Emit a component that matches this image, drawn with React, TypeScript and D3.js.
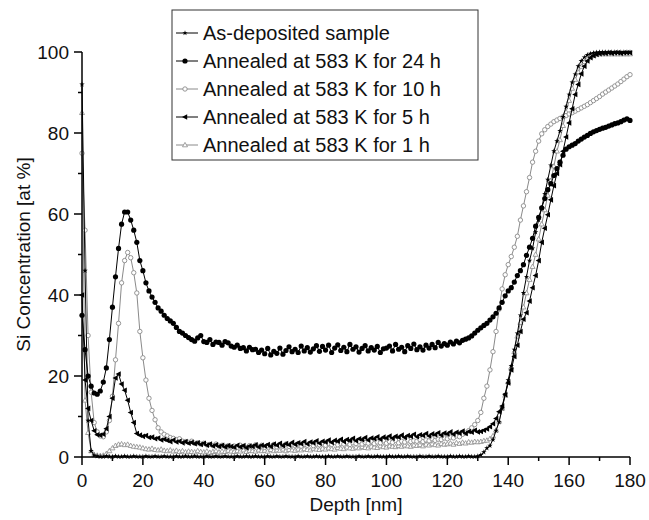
import * as d3 from 'd3'

// depth grid [nm], 1 nm steps
const depth = d3.range(0, 181)

const xTicks = [0, 20, 40, 60, 80, 100, 120, 140, 160, 180]
const xMinor = [10, 30, 50, 70, 90, 110, 130, 150, 170]
const yTicks = [0, 20, 40, 60, 80, 100]
const yMinor = [10, 30, 50, 70, 90]

// Si concentration [at %]
const asDeposited = [
  92, 46, 9, 1.5, 0.4, 0.2, 0.1, 0.1, 0.2, 0.1,
  0.1, 0.2, 0.1, 0.1, 0.2, 0.1, 0.1, 0.2, 0.1, 0.1,
  0.1, 0.2, 0.1, 0.1, 0.2, 0.1, 0.1, 0.2, 0.1, 0.1,
  0.1, 0.2, 0.1, 0.1, 0.2, 0.1, 0.1, 0.2, 0.1, 0.1,
  0.1, 0.2, 0.1, 0.1, 0.2, 0.1, 0.1, 0.2, 0.1, 0.1,
  0.1, 0.2, 0.1, 0.1, 0.2, 0.1, 0.1, 0.2, 0.1, 0.1,
  0.1, 0.2, 0.1, 0.1, 0.2, 0.1, 0.1, 0.2, 0.1, 0.1,
  0.1, 0.2, 0.1, 0.1, 0.2, 0.1, 0.1, 0.2, 0.1, 0.1,
  0.1, 0.2, 0.1, 0.1, 0.2, 0.1, 0.1, 0.2, 0.1, 0.1,
  0.1, 0.2, 0.1, 0.1, 0.2, 0.1, 0.1, 0.2, 0.1, 0.1,
  0.1, 0.2, 0.1, 0.1, 0.2, 0.1, 0.1, 0.2, 0.1, 0.1,
  0.1, 0.2, 0.1, 0.1, 0.2, 0.1, 0.1, 0.2, 0.1, 0.1,
  0.1, 0.2, 0.1, 0.1, 0.2, 0.1, 0.1, 0.2, 0.1, 0.1,
  0.2, 0.5, 1.2, 2.2, 2.8, 4.3, 6.5, 8.6, 12, 15.5,
  19, 22.5, 26.5, 30.5, 35, 40.5, 44.5, 48.5, 51.5, 55.5,
  58.5, 61.5, 65, 68.5, 72, 75.5, 78, 80.5, 84, 86.5,
  89.5, 92.5, 94.5, 96.5, 97.8, 98.7, 99.3, 99.6, 99.8, 99.9,
  100, 100, 100, 100, 100, 100, 100, 100, 100, 100, 100,
]

const annealed24h = [
  35, 26.5, 20, 17.5, 15.8, 15.5, 16.3, 18.5, 22, 29,
  37, 44.5, 51.5, 57.5, 60.5, 60.5, 58.5, 56, 53, 48.5,
  46, 43, 41, 39.5, 38.2, 36.8, 36, 35, 34.2, 33.6,
  33, 32, 31, 30.6, 30, 29.5, 29, 28.6, 29.4, 30,
  28.5, 28.3, 29, 27.8, 28.4, 28.3, 27.6, 28.5, 28.2, 27.4,
  27.1, 27.6, 26.8, 27, 26.2, 27.1, 26.5, 26.6, 25.8, 26.4,
  25.5, 26.8, 25.2, 26.1, 25.6, 26.9, 25.4, 26.3, 27.2, 26.0,
  26.6, 25.8, 27.4, 26.2, 27.0, 25.9, 26.7, 27.5, 26.1, 27.3,
  26.4, 27.6, 25.8, 26.9, 27.7, 26.3, 27.1, 26.0, 27.8, 26.6,
  27.2, 25.9, 26.8, 27.5, 26.2, 27.0, 26.4, 27.3, 25.8, 26.7,
  26.9, 27.4, 26.2, 27.8, 26.6, 27.1, 26.0, 27.5, 26.8, 27.9,
  26.5, 27.2, 26.4, 27.6, 26.9, 27.8, 27.0, 28.3, 27.4, 28.0,
  27.6, 28.4, 27.9, 28.6, 28.2, 28.8, 29.1, 29.4, 29.9, 30.6,
  31.3, 31.9, 32.5, 33.0, 33.8, 34.6, 35.5, 36.8, 38.2, 39.8,
  41.0, 41.8, 43.2, 44.8, 46.0, 47.5, 49.8, 51.8, 54.0, 57.0,
  59.2, 61.5, 63.8, 66.0, 67.5, 69.5, 71.2, 72.8, 74.5, 76.0,
  76.6, 77.0, 77.4, 78.0, 78.5, 79.0, 79.4, 79.9, 80.3, 80.6,
  80.9, 81.2, 81.4, 81.7, 82.0, 82.3, 82.5, 82.8, 83.2, 83.5, 83.1,
]

const annealed10h = [
  75, 56, 30, 16, 8.5, 6.2, 5.2, 5, 6.2, 9,
  15, 24, 33, 43, 48.5, 50.5, 49.2, 45.5, 40.5, 31,
  24.5, 19, 14.5, 11.5, 9.2, 7.2, 6.2, 5.6, 5.2, 4.8,
  4.6, 4.3, 4.5, 3.9, 3.8, 3.6, 3.9, 3.4, 3.5, 3.2,
  3.4, 3.0, 3.1, 2.8, 3.2, 2.7, 2.9, 2.6, 2.8, 2.5,
  2.7, 2.4, 2.9, 2.6, 2.3, 2.8, 2.5, 3.0, 2.6, 2.9,
  2.4, 2.8, 2.6, 3.1, 2.5, 2.9, 2.7, 3.2, 2.6, 3.0,
  2.8, 3.3, 2.7, 3.1, 2.9, 3.4, 2.8, 3.2, 3.0, 3.5,
  2.9, 3.3, 3.1, 3.6, 3.0, 3.4, 3.2, 3.7, 3.1, 3.5,
  3.3, 3.8, 3.2, 3.6, 3.4, 3.9, 3.3, 3.7, 3.5, 4.0,
  3.4, 3.8, 3.6, 4.1, 3.5, 3.9, 3.7, 4.2, 3.8, 4.0,
  3.9, 4.3, 3.8, 4.2, 4.0, 4.5, 4.1, 4.4, 4.3, 4.7,
  4.5, 4.9, 4.7, 5.2, 5.0, 5.6, 5.9, 6.5, 7.2, 8.0,
  9.0, 11, 14.5, 17.5, 21.5, 26, 31, 36.5, 41.5, 45,
  47.5, 49.5, 51.8, 54.5, 58.5, 62, 65.5, 69, 72.8, 75.5,
  78, 79.8, 80.8, 81.6, 82.2, 82.8, 83.2, 83.6, 84, 84.3,
  84.7, 85, 85.4, 85.8, 86.2, 86.6, 87, 87.5, 88, 88.5,
  89, 89.6, 90.1, 90.6, 91.1, 91.6, 92.1, 92.7, 93.3, 93.9, 94.4,
]

const annealed5h = [
  40, 19, 12, 9, 6.5, 5.5, 5.4, 5.6, 7, 10,
  14.5, 19.5, 20.5, 18, 16.5, 14, 11, 8.5, 5.8, 5.4,
  5.1, 5.3, 4.8, 4.9, 4.5, 4.7, 4.2, 4.4, 4.1, 3.8,
  4.2, 3.7, 3.9, 3.5, 3.8, 3.4, 3.6, 3.3, 3.5, 3.1,
  3.4, 2.9, 3.2, 2.7, 3.0, 2.6, 2.9, 2.5, 2.8, 2.6,
  2.4, 2.9, 2.5, 2.8, 2.3, 2.7, 2.6, 3.0, 2.5, 2.9,
  2.7, 3.1, 2.6, 3.2, 2.9, 3.4, 2.8, 3.3, 3.0, 3.6,
  3.1, 3.5, 3.3, 3.8, 3.2, 3.7, 3.5, 4.0, 3.4, 3.9,
  3.7, 4.2, 3.6, 4.1, 3.9, 4.4, 3.8, 4.3, 4.1, 4.6,
  4.0, 4.5, 4.3, 4.8, 4.2, 4.7, 4.5, 5.0, 4.4, 4.9,
  4.7, 5.2, 4.6, 5.1, 4.9, 5.4, 4.8, 5.3, 5.1, 5.6,
  5.0, 5.5, 5.3, 5.8, 5.2, 5.7, 5.5, 6.0, 5.4, 5.9,
  5.7, 6.2, 5.6, 6.1, 5.9, 6.4, 5.8, 6.3, 6.1, 6.6,
  6.2, 6.3, 6.6, 6.9, 7.5, 8.2, 9.5, 11.2, 12.6, 15.4,
  18.3, 21.5, 24.8, 27.6, 31, 34, 35.6, 38.5, 41.8, 44.8,
  48.5, 53, 56.5, 59.8, 63.5, 67, 70, 72.2, 75.5, 79,
  82.5, 86, 89.5, 92, 94.6, 96.5, 97.8, 98.6, 99.1, 99.4,
  99.6, 99.7, 99.7, 99.8, 99.7, 99.8, 99.8, 99.7, 99.8, 99.8, 99.8,
]

const annealed1h = [
  85, 14, 6, 1.5, 0.6, 0.4, 0.3, 0.4, 0.8, 1.5,
  2.2, 2.8, 3.1, 3.2, 3.0, 3.1, 2.8, 2.6, 2.5, 2.4,
  2.2, 2.0, 1.9, 2.1, 1.8, 1.7, 1.9, 1.6, 1.5, 1.7,
  1.4, 1.6, 1.3, 1.5, 1.2, 1.4, 1.3, 1.2, 1.5, 1.3,
  1.2, 1.4, 1.1, 1.3, 1.5, 1.2, 1.4, 1.3, 1.6, 1.4,
  1.3, 1.5, 1.4, 1.7, 1.3, 1.6, 1.5, 1.4, 1.7, 1.5,
  1.6, 1.4, 1.8, 1.5, 1.7, 1.6, 1.9, 1.5, 1.8, 1.7,
  1.6, 1.9, 1.7, 2.0, 1.8, 1.7, 2.1, 1.9, 1.8, 2.1,
  1.9, 2.2, 2.0, 1.9, 2.3, 2.1, 2.0, 2.4, 2.2, 2.1,
  2.4, 2.2, 2.5, 2.3, 2.2, 2.6, 2.4, 2.3, 2.7, 2.5,
  2.4, 2.7, 2.6, 2.5, 2.8, 2.6, 2.9, 2.7, 2.6, 2.9,
  2.8, 3.0, 2.7, 3.1, 2.9, 3.2, 3.0, 2.9, 3.3, 3.1,
  3.2, 3.4, 3.1, 3.5, 3.3, 3.6, 3.4, 3.7, 3.6, 3.8,
  3.7, 3.8, 4.0, 4.1, 4.5, 5.2, 6.6, 8.8, 12, 15.2,
  18.5, 22.2, 26, 29.8, 33.2, 37, 40.5, 43.8, 47, 50,
  53.8, 57.5, 61, 64.6, 68.2, 71.8, 75.5, 78.3, 81.8, 85.2,
  88, 91, 93.2, 95, 96.4, 97.6, 98.3, 98.8, 99.1, 99.4,
  99.5, 99.5, 99.5, 99.5, 99.5, 99.5, 99.5, 99.5, 99.5, 99.5, 99.5,
]

const legendLabels = [
  'As-deposited sample',
  'Annealed at 583 K for 24 h',
  'Annealed at 583 K for 10 h',
  'Annealed at 583 K for 5 h',
  'Annealed at 583 K for 1 h',
]

type Marker = 'star' | 'dot' | 'ring' | 'triLeft' | 'triOpen'

const series: { label: string; values: number[]; color: string; marker: Marker }[] = [
  { label: legendLabels[4], values: annealed1h, color: '#8a8a8a', marker: 'triOpen' },
  { label: legendLabels[2], values: annealed10h, color: '#8a8a8a', marker: 'ring' },
  { label: legendLabels[3], values: annealed5h, color: '#000', marker: 'triLeft' },
  { label: legendLabels[1], values: annealed24h, color: '#000', marker: 'dot' },
  { label: legendLabels[0], values: asDeposited, color: '#000', marker: 'star' },
]

const FONT = '"Liberation Sans", Arial, Helvetica, sans-serif'

function MarkerShape({ kind, x, y, color }: { kind: Marker; x: number; y: number; color: string }) {
  switch (kind) {
    case 'dot':
      return <circle cx={x} cy={y} r={2.6} fill={color} />
    case 'ring':
      return <circle cx={x} cy={y} r={2.2} fill="#fff" stroke={color} strokeWidth={0.9} />
    case 'triLeft':
      return <path d={`M${x - 3},${y}L${x + 2.2},${y - 2.8}L${x + 2.2},${y + 2.8}Z`} fill={color} />
    case 'triOpen':
      return <path d={`M${x},${y - 2.6}L${x + 2.5},${y + 1.8}L${x - 2.5},${y + 1.8}Z`} fill="#fff" stroke={color} strokeWidth={0.8} />
    case 'star':
    default:
      return (
        <path
          d={d3.symbol().type(d3.symbolStar).size(9)() || ''}
          transform={`translate(${x},${y})`}
          fill={color}
        />
      )
  }
}

export default function App() {
  const width = 649
  const height = 520
  const x = d3.scaleLinear().domain([0, 180]).range([82, 630])
  const y = d3.scaleLinear().domain([0, 100]).range([457, 52])

  const line = d3
    .line<number>()
    .x((_, i) => x(depth[i]))
    .y((v) => y(v))

  // legend order as in the reference
  const legendOrder = [
    { kind: 'star' as Marker, color: '#000' },
    { kind: 'dot' as Marker, color: '#000' },
    { kind: 'ring' as Marker, color: '#8a8a8a' },
    { kind: 'triLeft' as Marker, color: '#000' },
    { kind: 'triOpen' as Marker, color: '#8a8a8a' },
  ]

  return (
    <svg
      width={width}
      height={height}
      style={{ position: 'absolute', left: 0, top: 0, background: '#fff' }}
      fontFamily={FONT}
    >
      {/* data */}
      {series.map((s) => (
        <g key={s.label}>
          <path d={line(s.values) || ''} fill="none" stroke={s.color} strokeWidth={1} />
          {s.values.map((v, i) => (
            <MarkerShape key={i} kind={s.marker} x={x(depth[i])} y={y(v)} color={s.color} />
          ))}
        </g>
      ))}

      {/* x axis */}
      <g>
        <line x1={x(0)} x2={x(180)} y1={y(0)} y2={y(0)} stroke="#000" strokeWidth={1.5} />
        {xTicks.map((t) => (
          <g key={t}>
            <line x1={x(t)} x2={x(t)} y1={y(0)} y2={y(0) + 8} stroke="#000" strokeWidth={1.5} />
            <text x={x(t)} y={y(0) + 30} textAnchor="middle" fontSize={19} fill="#111">
              {t}
            </text>
          </g>
        ))}
        {xMinor.map((t) => (
          <line key={t} x1={x(t)} x2={x(t)} y1={y(0)} y2={y(0) + 4} stroke="#000" strokeWidth={1.5} />
        ))}
        <text x={(x(0) + x(180)) / 2} y={511} textAnchor="middle" fontSize={19} fill="#111">
          Depth [nm]
        </text>
      </g>

      {/* y axis */}
      <g>
        <line x1={x(0)} x2={x(0)} y1={y(0)} y2={y(100)} stroke="#000" strokeWidth={1.5} />
        {yTicks.map((t) => (
          <g key={t}>
            <line x1={x(0) - 8} x2={x(0)} y1={y(t)} y2={y(t)} stroke="#000" strokeWidth={1.5} />
            <text x={x(0) - 13} y={y(t) + 7} textAnchor="end" fontSize={19} fill="#111">
              {t}
            </text>
          </g>
        ))}
        {yMinor.map((t) => (
          <line key={t} x1={x(0) - 4} x2={x(0)} y1={y(t)} y2={y(t)} stroke="#000" strokeWidth={1.5} />
        ))}
        <text
          transform={`translate(30,${(y(0) + y(100)) / 2}) rotate(-90)`}
          textAnchor="middle"
          fontSize={19}
          fill="#111"
        >
          Si Concentration [at %]
        </text>
      </g>

      {/* legend */}
      <g>
        <rect x={172} y={10} width={306} height={150} fill="#fff" stroke="#333" strokeWidth={1} />
        {legendLabels.map((label, i) => {
          const cy = 33 + i * 28
          const m = legendOrder[i]
          return (
            <g key={label}>
              <line x1={176} x2={198} y1={cy} y2={cy} stroke={m.color} strokeWidth={1} />
              <MarkerShape kind={m.kind} x={185} y={cy} color={m.color} />
              <text x={203} y={cy + 7} fontSize={20} fill="#111">
                {label}
              </text>
            </g>
          )
        })}
      </g>
    </svg>
  )
}
